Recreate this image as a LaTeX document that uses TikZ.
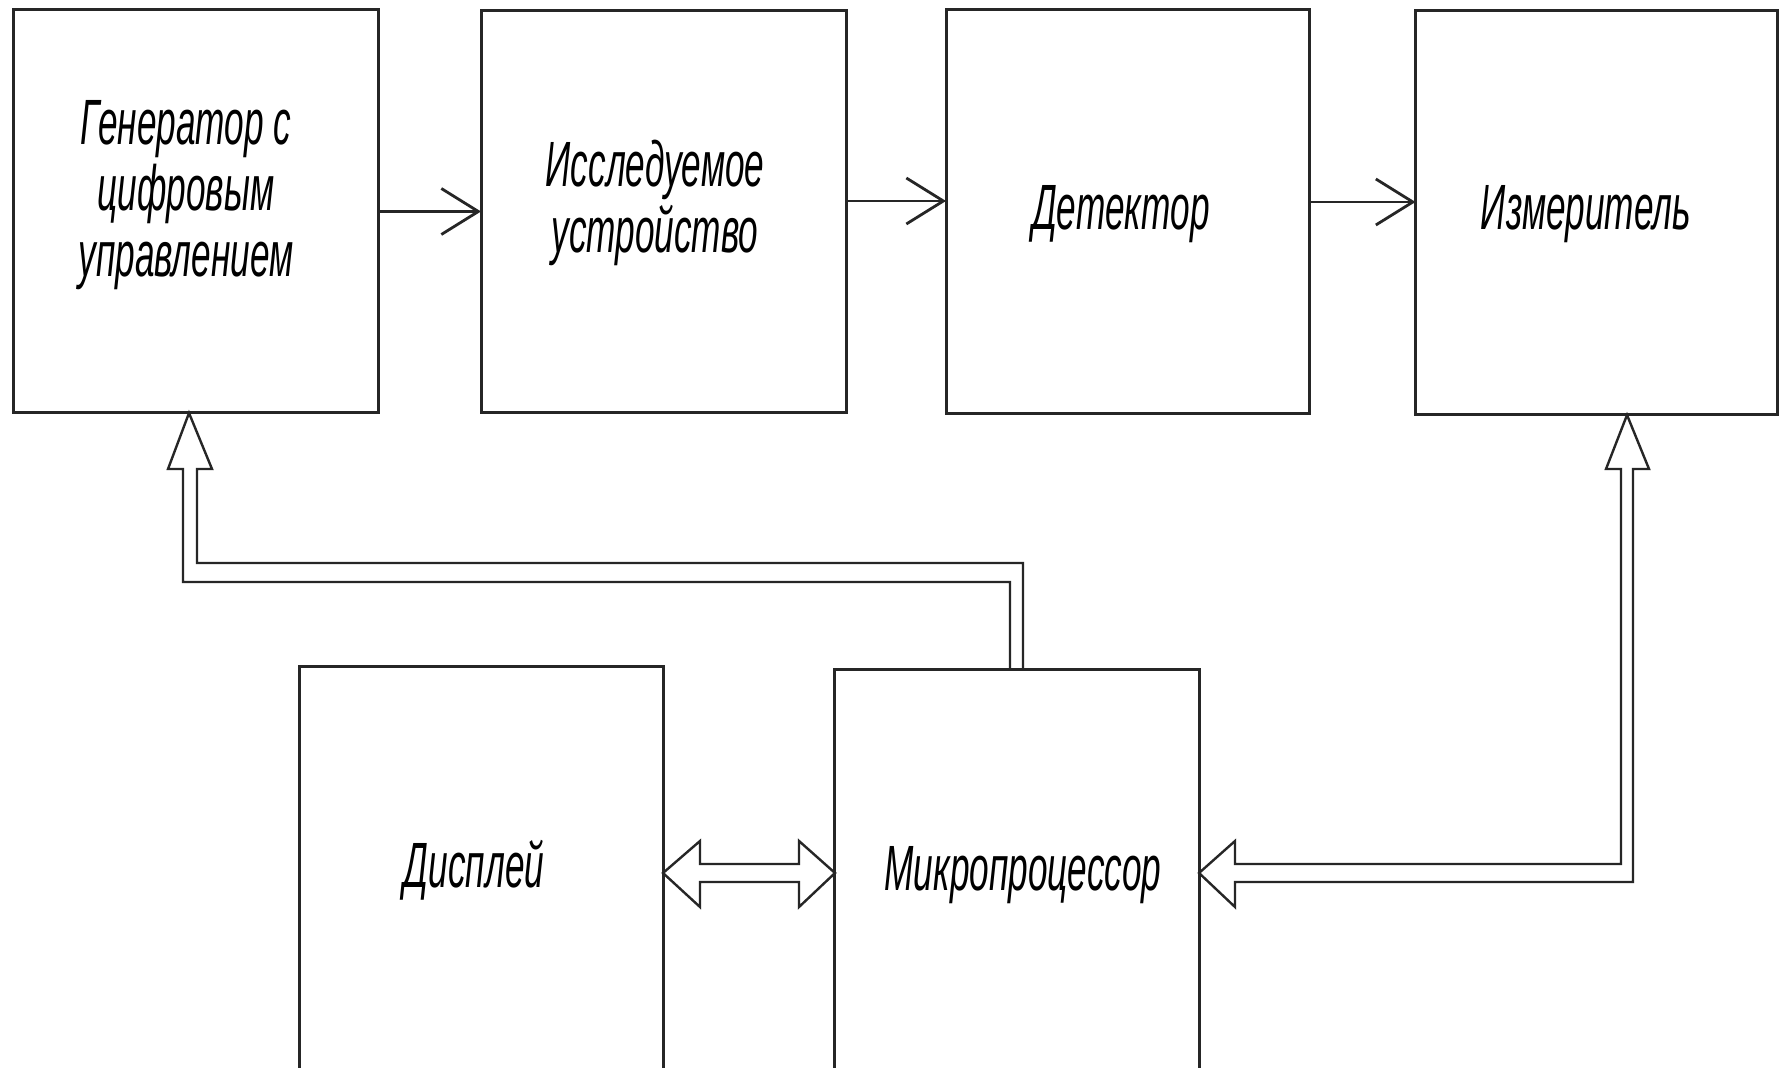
\documentclass[tikz,border=0pt]{standalone}
\usepackage{fontspec}
\newfontfamily\gost[FakeStretch=0.55]{Liberation Sans}
\usetikzlibrary{arrows.meta,calc}
\begin{document}
\begin{tikzpicture}[x=0.5pt,y=-0.5pt,
  box/.style={draw=black!85,line width=1.5pt,rectangle,inner sep=0pt,outer sep=0pt},
  lbl/.style={font=\gost\itshape\fontsize{32}{33}\selectfont,align=center,inner sep=0pt,anchor=base},
  thin/.style={draw=black!85,line width=1.4pt,-{Straight Barb[length=18.5pt,width=23pt,line width=1.4pt]}},
  hollow/.style={draw=black!85,line width=1.2pt,line join=miter}]
\useasboundingbox[fill=white] (0,0) rectangle (1780,1068);
\begin{scope}
\clip (0,0) rectangle (1780,1068);
% boxes
\node[box,minimum width=182.5pt,minimum height=201.5pt] (gen) at (195.5,211.5) {};
\node[box,minimum width=182.5pt,minimum height=201pt] (dut) at (663.5,212) {};
\node[box,minimum width=181.5pt,minimum height=202pt] (det) at (1127.5,212) {};
\node[box,minimum width=181pt,minimum height=202pt] (meas) at (1596.5,213) {};
\node[box,minimum width=182pt,minimum height=202pt] (disp) at (481,868) {};
\node[box,minimum width=182.5pt,minimum height=200.5pt] (mcu) at (1016.5,869.5) {};
% labels (base = baseline of last line)
\node[lbl] (genT) at (186,277) {Генератор с\\цифровым\\управлением};
\node[lbl] (dutT) at (655,253) {Исследуемое\\устройство};
\node[lbl] (detT) at (1121,230) {Детектор};
\node[lbl] (measT) at (1586,230) {Измеритель};
\node[lbl] (dispT) at (474,887) {Дисплей};
\node[lbl] (mcuT) at (1023,890) {Микропроцессор};
% thin arrows
\draw[thin] (gen.east) -- (gen.east -| dut.west);
\draw[thin] ([yshift=5.5pt]dut.east) -- ([yshift=5.5pt]dut.east -| det.west);
\draw[thin] ([yshift=5pt]det.east) -- ([yshift=5pt]det.east -| meas.west);
% hollow double-line arrows
\draw[hollow] (1010,669) -- (1010,582) -- (183,582) -- (183,469) -- (168,469)
  -- (189,413) -- (212,469) -- (197,469) -- (197,563) -- (1023,563) -- (1023,669);
\draw[hollow] (1627,415) -- (1649,469) -- (1633,469) -- (1633,882) -- (1235,882)
  -- (1235,907) -- (1199,873) -- (1235,841) -- (1235,864) -- (1621,864)
  -- (1621,469) -- (1606,469) -- cycle;
\draw[hollow] (663,873) -- (700,841) -- (700,864) -- (799,864) -- (799,841)
  -- (835,873) -- (799,907) -- (799,882) -- (700,882) -- (700,907) -- cycle;
\end{scope}
\end{tikzpicture}
\end{document}
